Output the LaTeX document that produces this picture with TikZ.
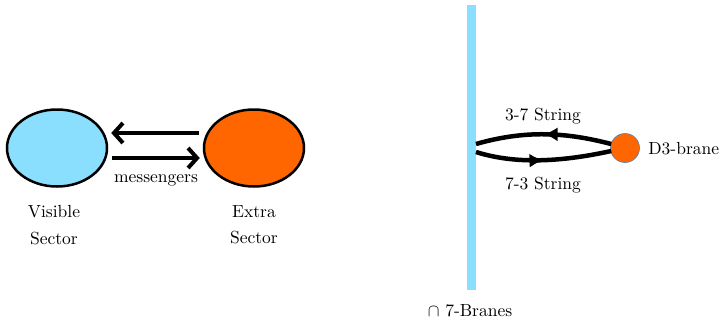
\documentclass[tikz,border=0pt]{standalone}
\usetikzlibrary{arrows.meta,decorations.markings,calc,shapes.geometric}
\definecolor{skyb}{HTML}{8ADFFF}
\definecolor{orng}{HTML}{FF6600}
\definecolor{rimc}{HTML}{4F7FB0}
\begin{document}
\begin{tikzpicture}[x=1pt,y=-1pt,
  lbl/.style={font=\fontsize{10}{12}\selectfont, scale=1.75, transform shape, inner sep=0pt, align=center},
  sector/.style={ellipse, draw=black, line width=2.5pt, minimum width=100pt, minimum height=77pt, inner sep=0pt},
  bigarrow/.style={line width=4.5pt, -{Straight Barb[length=9pt,width=20pt,line width=4pt]}},
  strline/.style={line width=4.5pt, postaction={decorate}},
  midleft/.style={decoration={markings, mark=at position 0.5 with {\arrow{Latex[length=14pt,width=14pt]}}}},
]
\useasboundingbox (0,0) rectangle (721,322);
% left part
\node[sector, fill=skyb] (vis) at (57,148) {};
\node[sector, fill=orng] (ext) at (254,148) {};
\draw[bigarrow] ($(ext.west)+(-4,-15)$) -- ($(vis.east)+(3,-15)$);
\draw[bigarrow] ($(vis.east)+(4,10)$) -- ($(ext.west)+(-3,10)$);
\node[lbl] (msg) at (156,180) {messengers};
\node[lbl] (vl) at (54,225) {Visible\\[3pt]Sector};
\node[lbl] (el) at (254,225) {Extra\\[3pt]Sector};
% right part
\fill[skyb] (467,5) rectangle (476,290);
\coordinate (barT) at (476,144);
\coordinate (barB) at (476,152);
\node[circle, fill=orng, draw=rimc, line width=0.6pt, minimum size=29pt, inner sep=0pt] (d3) at (625,148) {};
\node[lbl, anchor=west] (d3l) at (648,149) {D3-brane};
\draw[strline, midleft] ($(d3.west)+(1,-4)$) .. controls (565,132) and (525,130) .. (barT);
\draw[strline, midleft] (barB) .. controls (520,166) and (570,160) .. ($(d3.west)+(1,3)$);
\node[lbl] (s37) at (543,116) {3-7 String};
\node[lbl] (s73) at (543,185) {7-3 String};
\node[lbl] (br) at (470,311) {$\cap$ 7-Branes};
\end{tikzpicture}
\end{document}
